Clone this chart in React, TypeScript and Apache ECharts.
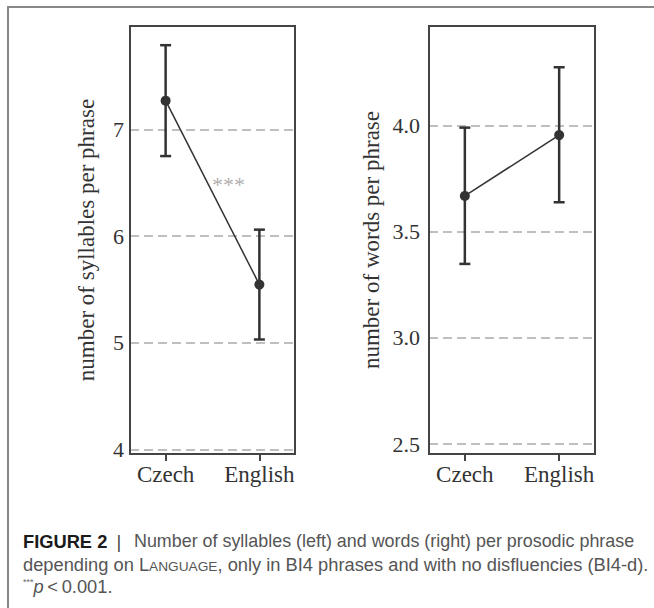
import React, { useEffect, useRef } from "react";
import * as echarts from "echarts";

const categories = ["Czech", "English"];
const catPos = [0, 1];
const syllMean = [7.27, 5.545];
const syllLow = [6.75, 5.03];
const syllHigh = [7.79, 6.06];
const wordMean = [3.668, 3.954];
const wordLow = [3.348, 3.638];
const wordHigh = [3.989, 4.273];
const syllTicks = [4, 5, 6, 7];
const wordTicks = [2.5, 3.0, 3.5, 4.0];
const sigLabel = "***";
const sigPos = [0.67, 6.5];

const SERIF = "'Liberation Serif', 'Times New Roman', serif";
const SANS = "'Liberation Sans', Arial, Helvetica, sans-serif";
const INK = "#333";
const CAP = 18.3;

function errRender(params: any, api: any) {
  const x = api.value(0);
  const lo = api.coord([x, api.value(1)]);
  const hi = api.coord([x, api.value(2)]);
  const hw = 5.5;
  const st = { stroke: INK, lineWidth: 2.5 };
  return {
    type: "group",
    children: [
      { type: "line", shape: { x1: lo[0], y1: lo[1], x2: hi[0], y2: hi[1] }, style: st },
      { type: "line", shape: { x1: lo[0] - hw, y1: lo[1], x2: lo[0] + hw, y2: lo[1] }, style: st },
      { type: "line", shape: { x1: hi[0] - hw, y1: hi[1], x2: hi[0] + hw, y2: hi[1] }, style: st },
    ],
  };
}

function xAxisOf(gridIndex: number) {
  return {
    type: "value",
    gridIndex,
    min: -0.38,
    max: 1.38,
    splitLine: { show: false },
    axisLine: { show: true, onZero: false, lineStyle: { color: "#444", width: 2 } },
    axisTick: { show: true, customValues: catPos, length: 7, lineStyle: { color: "#444", width: 2 } },
    axisLabel: {
      customValues: catPos,
      formatter: (v: number) => categories[Math.round(v)] ?? "",
      fontFamily: SERIF,
      fontSize: 23,
      color: INK,
      margin: 9,
    },
  };
}

function yAxisOf(gridIndex: number, min: number, max: number, ticks: number[], name: string, gap: number, lblMargin: number, digits: number) {
  return {
    type: "value",
    gridIndex,
    min,
    max,
    name,
    nameLocation: "middle",
    nameGap: gap,
    nameRotate: 90,
    nameTextStyle: { fontFamily: SERIF, fontSize: 23, color: INK },
    axisLine: { show: true, onZero: false, lineStyle: { color: "#444", width: 2 } },
    axisTick: { show: false },
    splitLine: {
      show: true,
      showMinLine: false,
      showMaxLine: false,
      lineStyle: { color: "#aaa", type: [9, 5], width: 1.5 },
    },
    axisLabel: {
      customValues: ticks,
      formatter: (v: number) => v.toFixed(digits),
      fontFamily: SERIF,
      fontSize: 22,
      color: INK,
      margin: lblMargin,
    },
  };
}

export default function App() {
  const ref = useRef<HTMLDivElement>(null);
  useEffect(() => {
    if (!ref.current) return;
    const chart = echarts.init(ref.current, null, { renderer: "svg" });
    const syllLine = catPos.map((x, i) => [x, syllMean[i]]);
    const wordLine = catPos.map((x, i) => [x, wordMean[i]]);
    const syllErr = catPos.map((x, i) => [x, syllLow[i], syllHigh[i]]);
    const wordErr = catPos.map((x, i) => [x, wordLow[i], wordHigh[i]]);
    chart.setOption({
      animation: false,
      backgroundColor: "#fff",
      grid: [
        { left: 130, top: 26, width: 165, height: 428, show: true, borderColor: "#444", borderWidth: 2, backgroundColor: "transparent" },
        { left: 429, top: 26, width: 166, height: 428, show: true, borderColor: "#444", borderWidth: 2, backgroundColor: "transparent" },
      ],
      xAxis: [xAxisOf(0), xAxisOf(1)],
      yAxis: [
        yAxisOf(0, 3.956, 7.97, syllTicks, "number of syllables per phrase", 32, 6, 0),
        yAxisOf(1, 2.454, 4.467, wordTicks, "number of words per phrase", 46, 9, 1),
      ],
      series: [
        {
          type: "custom",
          xAxisIndex: 0,
          yAxisIndex: 0,
          renderItem: errRender,
          data: syllErr,
          z: 3,
        },
        {
          type: "custom",
          xAxisIndex: 1,
          yAxisIndex: 1,
          renderItem: errRender,
          data: wordErr,
          z: 3,
        },
        {
          type: "line",
          xAxisIndex: 0,
          yAxisIndex: 0,
          data: syllLine,
          symbol: "circle",
          symbolSize: 10,
          itemStyle: { color: INK },
          lineStyle: { color: INK, width: 1.5 },
          z: 4,
        },
        {
          type: "line",
          xAxisIndex: 1,
          yAxisIndex: 1,
          data: wordLine,
          symbol: "circle",
          symbolSize: 10,
          itemStyle: { color: INK },
          lineStyle: { color: INK, width: 1.5 },
          z: 4,
        },
        {
          type: "scatter",
          xAxisIndex: 0,
          yAxisIndex: 0,
          data: [sigPos],
          symbolSize: 0,
          label: {
            show: true,
            position: "inside",
            formatter: sigLabel,
            fontFamily: SERIF,
            fontSize: 22,
            color: "#999",
            offset: [0, 2],
          },
        },
      ],
      graphic: [
        {
          type: "rect",
          shape: { x: 8, y: 7, width: 700, height: 700 },
          style: { fill: "none", stroke: "#888", lineWidth: 2 },
          silent: true,
        },
        {
          type: "text",
          x: 23,
          y: 541,
          style: {
            text: "{b|FIGURE 2}{bar|\u2002|\u2002\u2009}{t|Number of syllables (left) and words (right) per prosodic phrase}",
            verticalAlign: "middle",
            rich: {
              b: { fontFamily: SANS, fontSize: CAP, fontWeight: "bold", fill: "#1a1a1a" },
              bar: { fontFamily: SANS, fontSize: CAP, fill: "#444" },
              t: { fontFamily: SANS, fontSize: 17.9, fill: "#555" },
            },
          },
        },
        {
          type: "text",
          x: 23,
          y: 564,
          style: {
            text: "{t|depending on L}{sc|ANGUAGE}{t|, only in BI4 phrases and with no disfluencies (BI4-d).}",
            verticalAlign: "middle",
            rich: {
              t: { fontFamily: SANS, fontSize: CAP, fill: "#555" },
              sc: { fontFamily: SANS, fontSize: 13.7, fill: "#555", verticalAlign: "bottom" },
            },
          },
        },
        {
          type: "text",
          x: 23,
          y: 586,
          style: {
            text: "{sup|***}{it|p}{t|\u2009<\u20090.001.}",
            verticalAlign: "middle",
            rich: {
              sup: { fontFamily: SANS, fontSize: 9, fill: "#666", verticalAlign: "top" },
              it: { fontFamily: SANS, fontSize: CAP, fontStyle: "italic", fill: "#555" },
              t: { fontFamily: SANS, fontSize: CAP, fill: "#555" },
            },
          },
        },
      ],
    });
    return () => chart.dispose();
  }, []);
  return <div ref={ref} style={{ position: "absolute", left: 0, top: 0, width: 654, height: 608 }} />;
}
